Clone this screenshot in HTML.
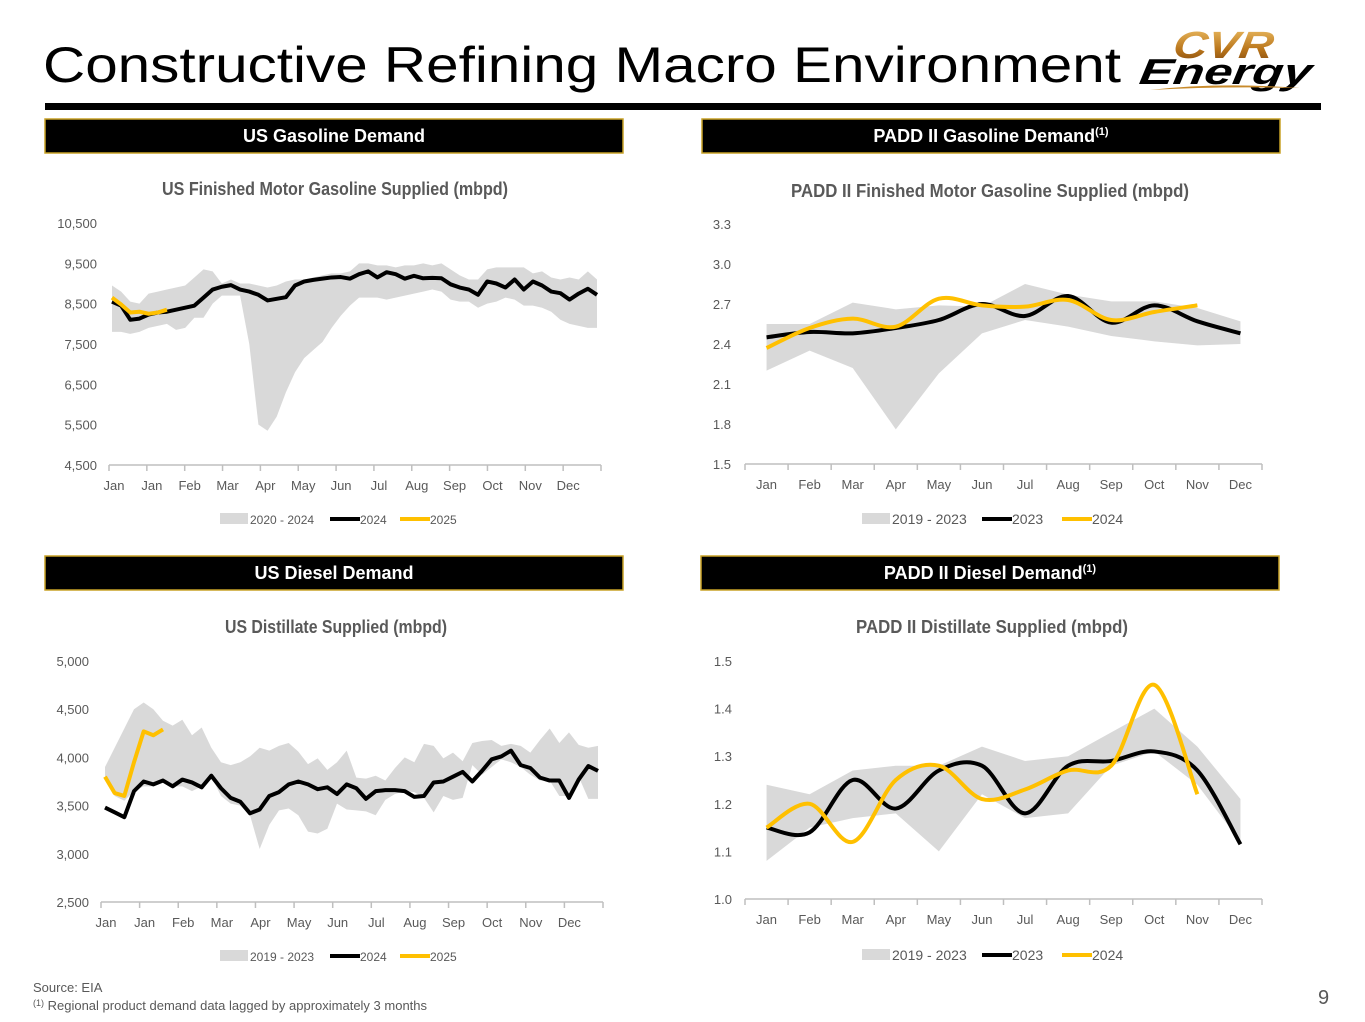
<!DOCTYPE html>
<html><head><meta charset="utf-8"><style>
body{margin:0;background:#fff;}
svg{display:block;font-family:"Liberation Sans",sans-serif;}
</style></head><body>
<svg id="page" width="1365" height="1022" viewBox="0 0 1365 1022">
<text x="43" y="82" font-size="50" fill="#000" textLength="1078" lengthAdjust="spacingAndGlyphs">Constructive Refining Macro Environment</text>
<g>
<defs><linearGradient id="gold" x1="0" y1="0" x2="0" y2="1"><stop offset="0" stop-color="#f2c46a"/><stop offset="0.6" stop-color="#b8741a"/><stop offset="1" stop-color="#7a4310"/></linearGradient></defs>
<text x="1172" y="58" font-size="38" font-weight="bold" font-style="italic" fill="url(#gold)" textLength="100" lengthAdjust="spacingAndGlyphs" transform="skewX(-8) translate(8,0)">CVR</text>
<text x="1138" y="84" font-size="36" font-weight="bold" font-style="italic" fill="#000" textLength="172" lengthAdjust="spacingAndGlyphs" transform="skewX(-8) translate(12,0)">Energy</text>
<path d="M1150 90 Q1220 82 1300 88 Q1220 86 1150 90Z" fill="#c88a2a"/>
</g>
<rect x="45" y="103" width="1276" height="7" fill="#000"/>
<g id="charts"></g>
<text x="33" y="992" font-size="13" fill="#595959">Source:  EIA</text>
<text x="33" y="1010" font-size="13" fill="#595959"><tspan font-size="9" dy="-4">(1)</tspan><tspan dy="4"> Regional product demand data lagged by approximately 3 months</tspan></text>
<text x="1318" y="1004" font-size="20" fill="#595959">9</text>
</svg>
<script>
// ---- Chart 1: US gasoline (weekly) ----
const gasUS2024 = [8550,8450,8100,8130,8230,8280,8300,8350,8400,8450,8650,8850,8920,8960,8850,8800,8720,8580,8620,8660,8950,9050,9090,9120,9150,9160,9120,9230,9300,9150,9280,9230,9120,9190,9130,9140,9130,8980,8900,8850,8720,9050,9000,8900,9100,8850,9050,8950,8800,8760,8600,8750,8870,8720];
const gasUS2025 = [8650,8480,8280,8300,8250,8280,8350];
const gasUSHigh = [8950,8800,8550,8500,8750,8800,8850,8900,8950,9150,9350,9300,9000,9100,9000,9000,8950,8900,8950,9050,9100,9100,9150,9200,9250,9250,9300,9500,9500,9450,9450,9400,9450,9450,9500,9450,9500,9350,9200,9100,9100,9350,9400,9400,9400,9400,9250,9300,9150,9100,9150,9100,9300,9100];
const gasUSLow = [7800,7800,7750,7800,7900,7950,8000,7850,7900,8150,8150,8500,8700,8700,8700,7500,5500,5350,5700,6300,6800,7150,7350,7550,7900,8200,8450,8650,8650,8650,8600,8650,8700,8750,8800,8850,8800,8600,8550,8550,8400,8500,8550,8650,8600,8450,8450,8400,8300,8100,8000,7950,7900,7900];
const gasUSTicks = [4500,5500,6500,7500,8500,9500,10500];
// ---- Chart 3: US diesel (weekly) ----
const dslUS2024 = [3480,3430,3380,3650,3750,3720,3760,3700,3770,3740,3690,3810,3680,3580,3540,3420,3460,3600,3640,3720,3750,3720,3670,3690,3620,3720,3680,3570,3650,3660,3660,3650,3590,3600,3740,3750,3800,3850,3750,3860,3980,4010,4070,3920,3890,3790,3760,3760,3580,3770,3910,3860];
const dslUS2025 = [3800,3630,3600,3950,4270,4230,4290];
const dslUSHigh = [3900,4100,4300,4500,4570,4500,4380,4330,4390,4230,4310,4100,3950,3920,3950,4010,4100,4070,4120,4150,4060,3930,3990,3870,3950,4070,3790,3780,3810,3760,3890,4000,3950,4140,4120,3990,4050,3960,4150,4170,4180,4120,4140,4120,4050,4180,4300,4150,4260,4130,4100,4120];
const dslUSLow = [3800,3600,3550,3650,3700,3700,3750,3700,3700,3650,3700,3800,3600,3520,3500,3400,3050,3300,3450,3470,3400,3230,3210,3260,3520,3460,3450,3440,3400,3560,3620,3650,3640,3580,3430,3600,3560,3580,3920,3820,3900,3980,3950,3900,3820,3760,3760,3600,3600,3800,3570,3570];
const dslUSTicks = [2500,3000,3500,4000,4500,5000];
const weeklyMonths = ["Jan","Jan","Feb","Mar","Apr","May","Jun","Jul","Aug","Sep","Oct","Nov","Dec"];
// ---- Chart 2: PADD II gasoline (monthly) ----
const months = ["Jan","Feb","Mar","Apr","May","Jun","Jul","Aug","Sep","Oct","Nov","Dec"];
const gasP2023 = [2.45,2.49,2.48,2.52,2.58,2.70,2.61,2.76,2.56,2.69,2.57,2.48];
const gasP2024 = [2.37,2.52,2.59,2.53,2.74,2.69,2.68,2.73,2.58,2.64,2.69];
const gasPHigh = [2.55,2.55,2.71,2.66,2.69,2.68,2.85,2.77,2.72,2.72,2.67,2.57];
const gasPLow = [2.20,2.35,2.22,1.76,2.18,2.48,2.58,2.53,2.46,2.42,2.39,2.40];
const gasPTicks = [1.5,1.8,2.1,2.4,2.7,3.0,3.3];
// ---- Chart 4: PADD II diesel (monthly) ----
const dslP2023 = [1.15,1.14,1.25,1.19,1.27,1.28,1.18,1.28,1.29,1.31,1.27,1.115];
const dslP2024 = [1.15,1.20,1.12,1.25,1.28,1.21,1.23,1.27,1.28,1.45,1.22];
const dslPHigh = [1.24,1.22,1.27,1.28,1.28,1.32,1.29,1.30,1.35,1.40,1.32,1.21];
const dslPLow = [1.08,1.15,1.17,1.18,1.10,1.22,1.17,1.18,1.28,1.31,1.24,1.12];
const dslPTicks = [1.0,1.1,1.2,1.3,1.4,1.5];

const NS="http://www.w3.org/2000/svg";
const root=document.getElementById('charts');
function mk(tag,attrs,parent){const e=document.createElementNS(NS,tag);for(const k in attrs)e.setAttribute(k,attrs[k]);(parent||root).appendChild(e);return e;}
function smooth(pts){let d=`M${pts[0][0]},${pts[0][1]}`;for(let i=0;i<pts.length-1;i++){const p0=pts[i-1]||pts[i],p1=pts[i],p2=pts[i+1],p3=pts[i+2]||p2;const c1=[p1[0]+(p2[0]-p0[0])/6,p1[1]+(p2[1]-p0[1])/6],c2=[p2[0]-(p3[0]-p1[0])/6,p2[1]-(p3[1]-p1[1])/6];d+=` C${c1[0]},${c1[1]} ${c2[0]},${c2[1]} ${p2[0]},${p2[1]}`;}return d;}
function line(pts){return 'M'+pts.map(p=>p.join(',')).join(' L');}

function chart(c){
  const g=mk('g',{});
  
  
  const hb=mk('rect',{x:c.hx,y:c.hy,width:578,height:34,fill:'#000',stroke:'#c9a227','stroke-width':1.5},g);
  
  
  const ht=mk('text',{x:c.hx+289,y:c.hy+23,'text-anchor':'middle','font-size':18,'font-weight':'bold',fill:'#fff'},g);
  
  
  ht.textContent=c.header;
  if(c.sup){const s=mk('tspan',{'font-size':11,dy:-7},ht);s.textContent='(1)';}
  const tt=mk('text',{x:c.tx,y:c.ty,'text-anchor':'middle','font-size':18,'font-weight':'bold',fill:'#595959',textLength:c.tw,lengthAdjust:'spacingAndGlyphs'},g);
  
  
  tt.textContent=c.title;
  const ys=v=>c.y0+(v-c.vmin)/(c.vmax-c.vmin)*(c.y1-c.y0);
  c.ticks.forEach(t=>{const e=mk('text',{x:c.ylx,y:ys(t)+5,'text-anchor':'end','font-size':13,fill:'#595959'},g);
    
    
    e.textContent=c.fmt(t);});
  const ax=mk('line',{x1:c.ax0,x2:c.ax1,y1:c.y0,y2:c.y0,stroke:'#bfbfbf','stroke-width':1.5},g);
  
  
  const n=c.cats.length,cw=(c.ax1-c.ax0)/n;
  for(let i=0;i<=n;i++)mk('line',{x1:c.ax0+i*cw,x2:c.ax0+i*cw,y1:c.y0,y2:c.y0+6,stroke:'#bfbfbf','stroke-width':1.5},g);
  c.cats.forEach((m,i)=>{const lxp=c.weekly?c.ax0+i*cw+5:c.ax0+(i+0.5)*cw;
    const e=mk('text',{x:lxp,y:c.y0+25,'text-anchor':'middle','font-size':13,fill:'#595959'},g);
    
    
    e.textContent=m;});
  let xs;
  if(c.weekly){const N=c.s1.length;xs=i=>c.dx0+i*(c.dx1-c.dx0)/(N-1);}
  else xs=i=>c.ax0+(i+0.5)*cw;
  const hi=c.hi.map((v,i)=>[xs(i),ys(v)]),lo=c.lo.map((v,i)=>[xs(i),ys(v)]);
  const band=mk('path',{d:line(hi)+' L'+lo.slice().reverse().map(p=>p.join(',')).join(' L')+'Z',fill:'#d9d9d9'},g);
  
  
  const f=c.weekly?line:smooth;
  const l1=mk('path',{d:f(c.s1.map((v,i)=>[xs(i),ys(v)])),fill:'none',stroke:'#000','stroke-width':4,'stroke-linejoin':'round'},g);
  
  
  const l2=mk('path',{d:f(c.s2.map((v,i)=>[xs(i),ys(v)])),fill:'none',stroke:'#ffc000','stroke-width':4,'stroke-linejoin':'round'},g);
  
  
  const lx=c.lx,ly=c.ly;
  const lg=mk('g',{},g);
  
  
  mk('rect',{x:lx,y:ly-6,width:28,height:11,fill:'#d9d9d9'},lg);
  const a=mk('text',{x:lx+30,y:ly+5,'font-size':c.lfs,fill:'#595959'},lg);a.textContent=c.leg[0];
  mk('line',{x1:lx+c.lo1,x2:lx+c.lo1+30,y1:ly,y2:ly,stroke:'#000','stroke-width':4},lg);
  const b=mk('text',{x:lx+c.lo1+30,y:ly+5,'font-size':c.lfs,fill:'#595959'},lg);b.textContent=c.leg[1];
  mk('line',{x1:lx+c.lo2,x2:lx+c.lo2+30,y1:ly,y2:ly,stroke:'#ffc000','stroke-width':4},lg);
  const d=mk('text',{x:lx+c.lo2+30,y:ly+5,'font-size':c.lfs,fill:'#595959'},lg);d.textContent=c.leg[2];
}
const comma=v=>v.toLocaleString('en-US');
chart({name:'us-gasoline-chart',hx:45,hy:119,header:'US Gasoline Demand',title:'US Finished Motor Gasoline Supplied (mbpd)',tx:335,ty:195,tw:346,
  y0:465,y1:223,vmin:4500,vmax:10500,ticks:gasUSTicks,fmt:comma,ylx:97,ax0:109,ax1:601,cats:weeklyMonths,weekly:true,dx0:112,dx1:597,
  s1:gasUS2024,s2:gasUS2025,hi:gasUSHigh,lo:gasUSLow,lx:220,ly:519,lfs:12,lo1:110,lo2:180,leg:['2020 - 2024','2024','2025']});
chart({name:'padd2-gasoline-chart',hx:702,hy:119,header:'PADD II Gasoline Demand',sup:true,title:'PADD II Finished Motor Gasoline Supplied (mbpd)',tx:990,ty:197,tw:398,
  y0:464,y1:224,vmin:1.5,vmax:3.3,ticks:gasPTicks,fmt:v=>v.toFixed(1),ylx:731,ax0:745,ax1:1262,cats:months,weekly:false,
  s1:gasP2023,s2:gasP2024,hi:gasPHigh,lo:gasPLow,lx:862,ly:519,lfs:14,lo1:120,lo2:200,leg:['2019 - 2023','2023','2024']});
chart({name:'us-diesel-chart',hx:45,hy:556,header:'US Diesel Demand',title:'US Distillate Supplied (mbpd)',tx:336,ty:633,tw:222,
  y0:902,y1:661,vmin:2500,vmax:5000,ticks:dslUSTicks,fmt:comma,ylx:89,ax0:101,ax1:603,cats:weeklyMonths,weekly:true,dx0:105,dx1:598,
  s1:dslUS2024,s2:dslUS2025,hi:dslUSHigh,lo:dslUSLow,lx:220,ly:956,lfs:12,lo1:110,lo2:180,leg:['2019 - 2023','2024','2025']});
chart({name:'padd2-diesel-chart',hx:701,hy:556,header:'PADD II Diesel Demand',sup:true,title:'PADD II Distillate Supplied (mbpd)',tx:992,ty:633,tw:272,
  y0:899,y1:661,vmin:1.0,vmax:1.5,ticks:dslPTicks,fmt:v=>v.toFixed(1),ylx:732,ax0:745,ax1:1262,cats:months,weekly:false,
  s1:dslP2023,s2:dslP2024,hi:dslPHigh,lo:dslPLow,lx:862,ly:955,lfs:14,lo1:120,lo2:200,leg:['2019 - 2023','2023','2024']});
</script>
</body></html>
